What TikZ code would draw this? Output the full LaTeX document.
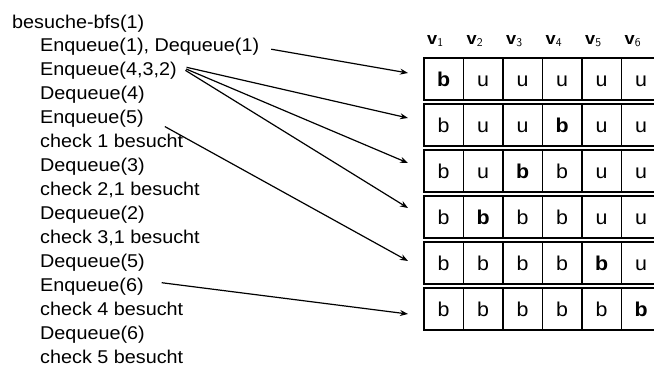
\documentclass[tikz,border=0pt]{standalone}
\usepackage{fontspec}
\setmainfont{Liberation Sans}[FakeStretch=1.07]
\usetikzlibrary{arrows.meta,calc}
\begin{document}
\begin{tikzpicture}[x=1pt,y=-1pt,
  txt/.style={anchor=base west,inner sep=0pt,font=\fontsize{18.5}{22}\selectfont},
  cell/.style={draw,line width=1.7pt,minimum width=39.5pt,minimum height=42pt,inner sep=0pt,anchor=north west,text height=14.5pt,text depth=0pt,font=\fontsize{20}{24}\selectfont},
  hd/.style={anchor=base west,inner sep=0pt,font=\fontsize{17}{20}\selectfont\bfseries},
  arr/.style={-{Stealth[length=8pt,width=6pt]},line width=1.2pt}]
\useasboundingbox (0,0) rectangle (654,367);
% text lines
\node[txt] (l0) at (12,28) {besuche-bfs(1)};
\foreach \t [count=\i] in {{Enqueue(1), Dequeue(1)},{Enqueue(4,3,2)},{Dequeue(4)},{Enqueue(5)},{check 1 besucht},{Dequeue(3)},{check 2,1 besucht},{Dequeue(2)},{check 3,1 besucht},{Dequeue(5)},{Enqueue(6)},{check 4 besucht},{Dequeue(6)},{check 5 besucht}}
  \node[txt] (l\i) at (40,28+23.93*\i) {\t};
% headers
\foreach \j in {1,...,6}
  \node[hd] (h\j) at (427+39.5*\j-39.5,44) {v$_{\mathsf{\j}}$};
% table rows
\foreach \row [count=\i] in {{\textbf{b},u,u,u,u,u},{b,u,u,\textbf{b},u,u},{b,u,\textbf{b},b,u,u},{b,\textbf{b},b,b,u,u},{b,b,b,b,\textbf{b},u},{b,b,b,b,b,\textbf{b}}}
  \foreach \l [count=\j] in \row
    \node[cell] (c\i-\j) at (423+39.5*\j-39.5,57+46*\i-46) {\l};
% arrow tips
\coordinate (t1) at (408,73);
\coordinate (t2) at (408,118);
\coordinate (t3) at (408,163);
\coordinate (t4) at (408,208);
\coordinate (t5) at (408,261);
\coordinate (t6) at (408,314);
\draw[arr,shorten <=12pt] (l1.east) -- (t1);
\draw[arr,shorten <=10pt] ($(l2.east)+(0,-6)$) -- (t2);
\draw[arr,shorten <=10pt] ($(l2.east)+(0,-6)$) -- (t3);
\draw[arr,shorten <=10pt] ($(l2.east)+(0,-6)$) -- (t4);
\draw[arr,shorten <=24pt] ($(l4.east)+(0,-4)$) -- (t5);
\draw[arr,shorten <=18pt] ($(l11.east)+(0,-6)$) -- (t6);
\end{tikzpicture}
\end{document}
